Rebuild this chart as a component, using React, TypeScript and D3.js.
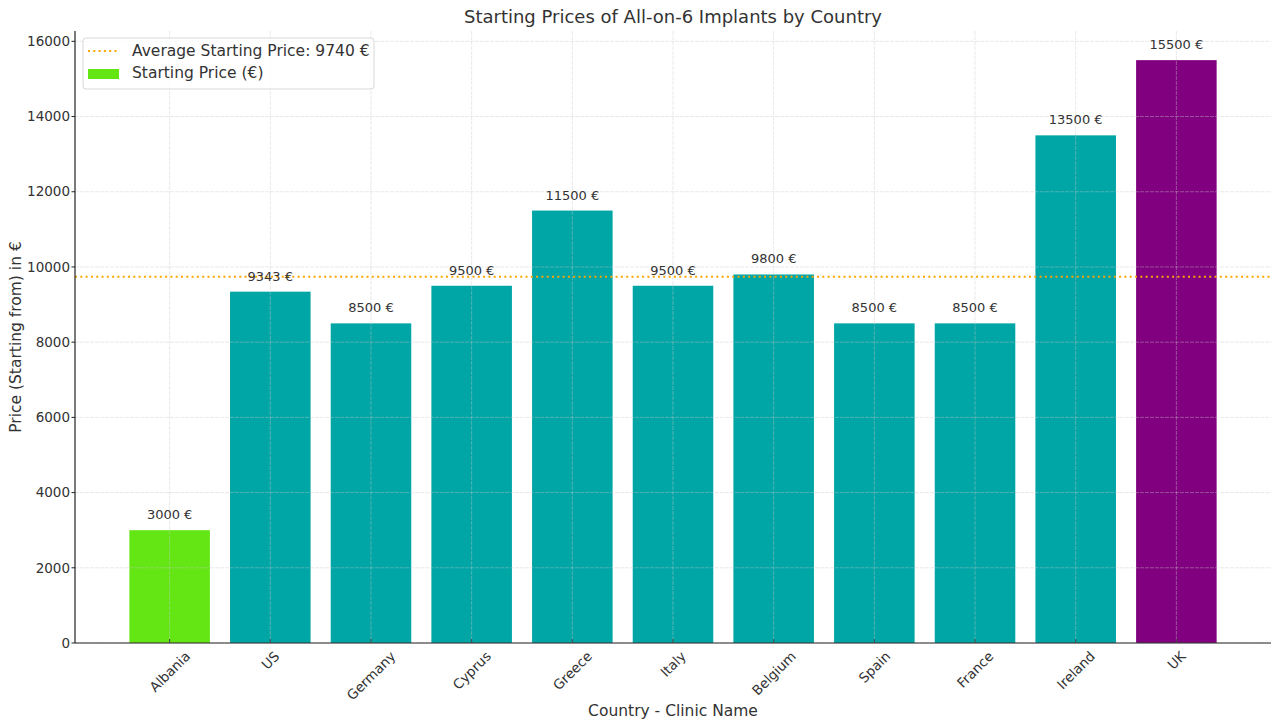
import React, { useEffect, useRef } from "react";
import * as d3 from "d3";

const countries = ["Albania", "US", "Germany", "Cyprus", "Greece", "Italy", "Belgium", "Spain", "France", "Ireland", "UK"];
const prices = [3000, 9343, 8500, 9500, 11500, 9500, 9800, 8500, 8500, 13500, 15500];
const barColors = ["#64e615", "#00a5a5", "#00a5a5", "#00a5a5", "#00a5a5", "#00a5a5", "#00a5a5", "#00a5a5", "#00a5a5", "#00a5a5", "#800080"];
const yTicks = [0, 2000, 4000, 6000, 8000, 10000, 12000, 14000, 16000];
const averagePrice = 9740;

const W = 1280, H = 728;
const left = 75, right = 1271, top = 31, bottom = 643;
const FONT = "DejaVu Sans, sans-serif";
const TXT = "#333";

export default function App() {
  const ref = useRef<SVGSVGElement>(null);
  useEffect(() => {
    const svg = d3.select(ref.current);
    svg.selectAll("*").remove();
    const n = countries.length;
    const x = d3.scaleLinear().domain([-0.94, n - 1 + 0.94]).range([left, right]);
    const y = d3.scaleLinear().domain([0, 16275]).range([bottom, top]);
    const bw = x(0.4) - x(0);

    svg.append("rect").attr("width", W).attr("height", H).attr("fill", "#fff");

    // bars
    svg.append("g").selectAll("rect").data(prices).join("rect")
      .attr("x", (_, i) => x(i) - bw)
      .attr("width", bw * 2)
      .attr("y", d => y(d))
      .attr("height", d => y(0) - y(d))
      .attr("fill", (_, i) => barColors[i]);

    // grid on top
    const grid = svg.append("g").attr("stroke", "#c8c8c8").attr("stroke-opacity", 0.5).attr("stroke-width", 0.8).attr("stroke-dasharray", "4,1");
    yTicks.forEach(t => grid.append("line").attr("x1", left).attr("x2", right).attr("y1", y(t)).attr("y2", y(t)));
    countries.forEach((_, i) => grid.append("line").attr("x1", x(i)).attr("x2", x(i)).attr("y1", top).attr("y2", bottom));

    // average line
    svg.append("line").attr("x1", left).attr("x2", right).attr("y1", y(averagePrice)).attr("y2", y(averagePrice))
      .attr("stroke", "#ffa500").attr("stroke-width", 2).attr("stroke-dasharray", "2,3.3");

    // value labels
    svg.append("g").selectAll("text").data(prices).join("text")
      .attr("x", (_, i) => x(i)).attr("y", d => y(d) - 11)
      .attr("text-anchor", "middle").attr("font-family", FONT).attr("font-size", 13).attr("fill", TXT)
      .text(d => `${d} €`);

    // spines
    svg.append("line").attr("x1", left).attr("x2", left).attr("y1", top).attr("y2", bottom).attr("stroke", "#222").attr("stroke-width", 1.2);
    svg.append("line").attr("x1", left).attr("x2", right).attr("y1", bottom).attr("y2", bottom).attr("stroke", "#222").attr("stroke-width", 1.2);

    // y ticks
    const yt = svg.append("g");
    yTicks.forEach(t => {
      yt.append("line").attr("x1", left - 3.5).attr("x2", left).attr("y1", y(t)).attr("y2", y(t)).attr("stroke", "#222");
      yt.append("text").attr("x", left - 5).attr("y", y(t)).attr("dy", "0.35em").attr("text-anchor", "end")
        .attr("font-family", FONT).attr("font-size", 13.5).attr("fill", TXT).text(t);
    });

    // x ticks
    const xt = svg.append("g");
    countries.forEach((c, i) => {
      xt.append("line").attr("x1", x(i)).attr("x2", x(i)).attr("y1", bottom - 4).attr("y2", bottom).attr("stroke", "#444");
      const t = xt.append("text").attr("font-family", FONT).attr("font-size", 13.5).attr("fill", TXT)
        .attr("text-anchor", "middle").attr("dominant-baseline", "central").text(c);
      const w = (t.node() as SVGTextElement).getComputedTextLength();
      const h = 13;
      const cy = bottom + 6 + (w + h) / (2 * Math.SQRT2);
      t.attr("transform", `translate(${x(i)},${cy}) rotate(-45)`);
    });

    // axis labels
    svg.append("text").attr("x", (left + right) / 2).attr("y", 716).attr("text-anchor", "middle")
      .attr("font-family", FONT).attr("font-size", 15.5).attr("fill", TXT).text("Country - Clinic Name");
    svg.append("text").attr("transform", `translate(21,${(top + bottom) / 2}) rotate(-90)`).attr("text-anchor", "middle")
      .attr("font-family", FONT).attr("font-size", 15.5).attr("fill", TXT).text("Price (Starting from) in €");

    // title
    svg.append("text").attr("x", (left + right) / 2).attr("y", 23).attr("text-anchor", "middle")
      .attr("font-family", FONT).attr("font-size", 18).attr("fill", TXT).text("Starting Prices of All-on-6 Implants by Country");

    // legend
    const lg = svg.append("g");
    lg.append("rect").attr("x", 83).attr("y", 38).attr("width", 291).attr("height", 51).attr("rx", 3)
      .attr("fill", "#fff").attr("fill-opacity", 0.8).attr("stroke", "#d8d8d8");
    lg.append("line").attr("x1", 88).attr("x2", 119).attr("y1", 51).attr("y2", 51)
      .attr("stroke", "#ffa500").attr("stroke-width", 2).attr("stroke-dasharray", "2,3.3");
    lg.append("rect").attr("x", 88).attr("y", 69).attr("width", 31).attr("height", 10).attr("fill", barColors[0]);
    lg.append("text").attr("x", 132).attr("y", 51).attr("dy", "0.35em").attr("font-family", FONT).attr("font-size", 15.5)
      .attr("fill", TXT).text(`Average Starting Price: ${averagePrice} €`);
    lg.append("text").attr("x", 132).attr("y", 73).attr("dy", "0.35em").attr("font-family", FONT).attr("font-size", 15.5)
      .attr("fill", TXT).text("Starting Price (€)");
  }, []);
  return <svg ref={ref} width={W} height={H} style={{ position: "absolute", left: 0, top: 0 }} />;
}
